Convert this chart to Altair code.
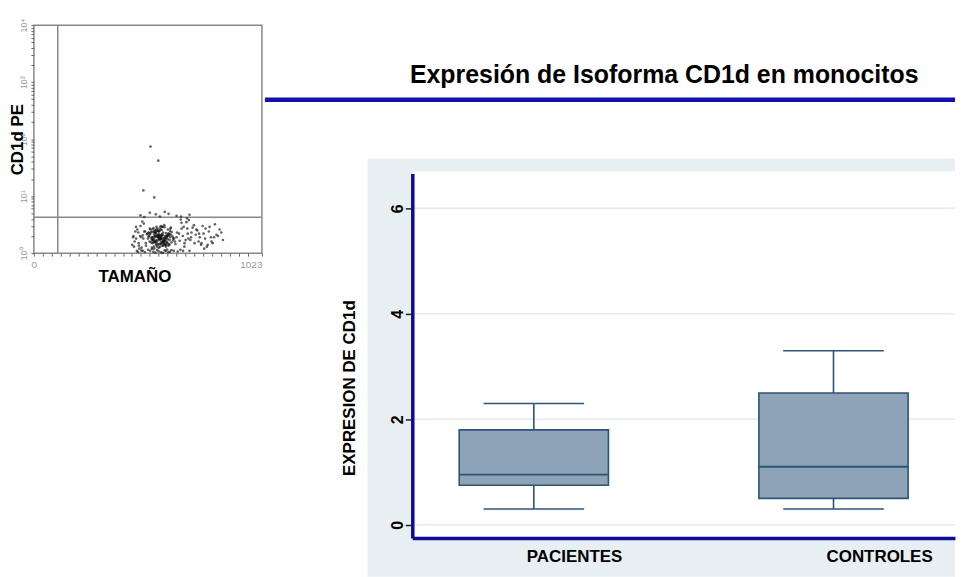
import altair as alt
import pandas as pd

FONT = "Liberation Sans"
BLUE = "#0b0b9c"
BOX_FILL = "#8fa3b7"
BOX_LINE = "#2b5579"

# ---------------- box plot values ----------------
groups = ["PACIENTES", "CONTROLES"]
whisker_low = [0.3, 0.3]
q1 = [0.75, 0.5]
median = [0.95, 1.1]
q3 = [1.8, 2.5]
whisker_high = [2.3, 3.3]
y_ticks = [0, 2, 4, 6]

# ---------------- cytometry dot plot values ----------------
core_x = [512, 547, 583, 601, 538, 566, 624, 495, 578, 553,
          609, 531, 589, 642, 520, 571, 556, 603, 488, 615,
          544, 592, 527, 569, 635, 507, 582, 549, 597, 561,
          618, 534, 575, 502, 588, 629, 541, 566, 612, 519,
          557, 594, 481, 573, 538, 651, 526, 585, 562, 606,
          499, 547, 621, 579, 533, 568, 597, 515, 553, 640,
          586, 542, 574, 608, 491, 563, 529, 600, 556, 617,
          537, 583, 509, 571, 625, 546, 592, 523, 564, 604,
          578, 550, 632, 517, 589, 560, 611, 532, 575, 503,
          567, 598, 544, 585, 654, 528, 559, 613, 571, 540]
core_y = [1.8, 2.2, 1.5, 2.6, 1.3, 2.0, 1.7, 2.4, 2.9, 1.6,
          2.1, 1.9, 1.4, 2.3, 2.7, 1.75, 2.5, 1.35, 2.05, 2.8,
          1.55, 2.25, 1.85, 3.0, 1.45, 2.15, 1.65, 2.6, 1.95, 1.25,
          2.35, 1.7, 2.9, 1.5, 2.0, 1.8, 2.45, 1.3, 2.7, 1.6,
          2.1, 1.4, 1.9, 2.55, 1.75, 2.2, 1.55, 3.1, 1.85, 1.45,
          2.4, 1.65, 2.0, 1.35, 2.65, 1.95, 1.5, 2.3, 1.7, 1.9,
          2.85, 1.6, 2.15, 1.4, 1.8, 2.5, 1.25, 2.05, 1.95, 1.55,
          2.75, 1.65, 2.2, 1.45, 1.85, 2.35, 1.3, 2.6, 1.75, 2.0,
          1.5, 2.9, 1.6, 2.25, 1.4, 1.9, 2.45, 1.7, 2.1, 1.35,
          2.8, 1.55, 2.0, 1.8, 1.65, 2.4, 1.45, 2.15, 1.85, 1.2]
dense_x = [548, 563, 579, 535, 592, 557, 571, 544, 586, 603, 529, 562, 575, 551, 597, 540, 568, 583, 556, 612,
           521, 549, 574, 590, 537, 560, 580, 546, 566, 601, 514, 553, 577, 539, 594, 558, 570, 527, 587, 605,
           543, 565, 581, 532, 555, 573, 596, 548, 562, 584, 518, 541, 569, 591, 536, 559, 578, 609, 552, 566]
dense_y = [2.0, 1.7, 2.3, 1.9, 1.6, 2.1, 1.8, 2.5, 1.45, 2.2, 1.75, 2.4, 1.55, 1.95, 2.05, 1.65, 2.6, 1.85, 1.4, 1.9,
           2.15, 1.5, 2.0, 1.7, 2.35, 1.8, 1.6, 2.25, 1.45, 1.75, 1.95, 2.45, 1.35, 2.1, 1.85, 2.0, 1.55, 2.3, 1.7, 2.2,
           1.9, 2.05, 1.65, 1.5, 2.7, 1.8, 1.95, 1.4, 2.15, 1.6, 2.0, 2.3, 1.75, 1.85, 1.55, 2.4, 2.1, 1.7, 1.3, 1.9]
edge_x = [452, 468, 705, 688, 473, 662, 447, 721, 690, 478,
          675, 459, 733, 698, 486, 668, 441, 712, 681, 464,
          744, 657, 493, 726, 470, 695, 455, 739, 672, 483,
          707, 462, 684, 750, 476, 663, 449, 718, 693, 467,
          729, 659, 488, 702, 458, 676, 741, 471, 687, 445]
edge_y = [1.6, 2.3, 1.9, 2.7, 1.2, 3.4, 2.0, 1.5, 2.2, 3.0,
          1.3, 1.8, 2.5, 1.1, 3.6, 2.0, 1.4, 2.8, 1.7, 2.6,
          1.9, 1.15, 3.3, 2.1, 1.5, 3.8, 2.4, 1.6, 2.9, 1.25,
          2.3, 1.1, 3.5, 1.4, 2.0, 2.7, 1.3, 3.1, 1.8, 1.05,
          2.6, 3.9, 1.1, 1.7, 2.9, 1.5, 2.2, 1.35, 4.1, 1.9]
tail_x = [768, 785, 802, 757, 819, 776, 833, 794, 761, 848,
          812, 780, 826, 770, 797, 841, 764, 808, 788, 752]
tail_y = [1.8, 2.4, 1.5, 3.0, 2.1, 1.3, 2.6, 1.9, 2.2, 1.7,
          3.2, 1.4, 2.0, 2.7, 1.6, 2.3, 1.2, 1.9, 2.9, 1.5]
base_x = [498, 521, 545, 560, 587, 603, 628, 512, 536, 571,
          592, 617, 645, 482, 553, 579, 610, 669, 530, 598]
base_y = [1.05, 1.1, 1.02, 1.08, 1.12, 1.04, 1.1, 1.15, 1.06, 1.03,
          1.09, 1.13, 1.07, 1.11, 1.14, 1.01, 1.06, 1.1, 1.18, 1.16]
high_x = [478, 520, 565, 604, 640, 698, 495, 587, 547, 660]
high_y = [4.6, 5.1, 4.4, 4.9, 4.5, 4.7, 4.3, 5.3, 4.8, 4.4]
outlier_x = [523, 558, 491, 540]
outlier_y = [74, 42, 12.6, 9.5]
gate_x = [107]
gate_y = [4.25]
cyto_x_ticks = list(range(0, 1000, 40)) + [1023]
cyto_y_ticks = [m * 10 ** e for e in range(4) for m in range(1, 10)] + [10000]

dots = pd.DataFrame({
    "tam": core_x + dense_x + edge_x + tail_x + base_x + high_x + outlier_x,
    "pe": core_y + dense_y + edge_y + tail_y + base_y + high_y + outlier_y,
})

# ---------------- left: cytometry ----------------
CW, CH = 229, 229
cx = alt.Scale(domain=[0, 1023], nice=False, zero=False)
cy = alt.Scale(type="log", domain=[1, 10000], nice=False)

cx_axis = alt.Axis(
    values=cyto_x_ticks, tickCount=100,
    labelExpr="datum.value == 0 ? '0' : datum.value == 1023 ? '1023' : ''",
    labelFlush=False, labelOverlap=False, labelBound=False,
    labelAlign={"condition": {"test": "datum.value == 1023", "value": "right"}, "value": "center"},
    labelColor="#999", labelFontSize=10, labelPadding=3,
    tickSize=3, tickColor="#666", tickWidth=1, domain=False, grid=False,
    title="TAMAÑO", titleFontSize=17, titleFontWeight="bold", titleColor="#000",
    titleX=101, titleY=15, titleBaseline="top", titleAlign="center",
)
cy_axis = alt.Axis(
    values=cyto_y_ticks, tickCount=100,
    labelExpr="datum.value == 1 ? '10⁰' : datum.value == 10 ? '10¹' : datum.value == 100 ? '10²' : datum.value == 1000 ? '10³' : datum.value == 10000 ? '10⁴' : ''",
    labelOverlap=False, labelAngle=270, labelAlign="center", labelBaseline="bottom",
    labelColor="#999", labelFontSize=9, labelPadding=2,
    tickSize=3, tickColor="#666", tickWidth=1, domain=False, grid=False,
    title="CD1d PE", titleFontSize=17, titleFontWeight="bold", titleColor="#000",
    titleAngle=270, titleX=-7, titleY=114.5, titleBaseline="bottom", titleAlign="center",
)

pts = alt.Chart(dots).mark_circle(size=7, color="#111", opacity=0.65).encode(
    x=alt.X("tam:Q", scale=cx, axis=cx_axis),
    y=alt.Y("pe:Q", scale=cy, axis=cy_axis),
)
gx = alt.Chart(pd.DataFrame({"g": gate_x})).mark_rule(color="#888", strokeWidth=1.5).encode(
    x=alt.X("g:Q", scale=cx))
gy = alt.Chart(pd.DataFrame({"g": gate_y})).mark_rule(color="#888", strokeWidth=1.5).encode(
    y=alt.Y("g:Q", scale=cy))

left = alt.layer(gx, gy, pts).properties(
    width=CW, height=CH,
    view=alt.ViewBackground(stroke="#888", strokeWidth=1.5, fill="white"),
)

# ---------------- right: box plot ----------------
W, H = 545, 515
box_df = pd.DataFrame({"grupo": groups, "lo": whisker_low, "q1": q1,
                       "med": median, "q3": q3, "hi": whisker_high})
grid_df = pd.DataFrame({"v": y_ticks})
one = alt.Data(values=[{"k": 1}])

xs = alt.Scale(domain=groups, paddingInner=0.502, paddingOuter=0.1565)
ys = alt.Scale(domain=[-0.25, 6.66], range=[515, 149], nice=False, zero=False)

x_axis = alt.Axis(
    title=None, labelAngle=0, labelAlign="left", labelOffset=-7, labelPadding=11,
    ticks=False, domainColor=BLUE, domainWidth=3.5, labelFontSize=17,
    labelFontWeight="bold", labelColor="#000", grid=False, zindex=1,
)
y_axis = alt.Axis(
    values=y_ticks, format="d", title="EXPRESION DE CD1d", titleFontSize=17, titleFontWeight="bold",
    titleColor="#000", titleAngle=270, titleX=-54, titleY=364, titleBaseline="bottom",
    titleAlign="center", labelAngle=270, labelAlign="center", labelBaseline="bottom",
    labelFontSize=16, labelFontWeight="bold", labelColor="#000", labelPadding=0,
    tickSize=7, tickColor="#222", tickWidth=1.5, domainColor=BLUE, domainWidth=3.5,
    grid=False, zindex=1,
)

panel = alt.Chart(one).mark_rect(color="#e8eff2").encode(
    x=alt.value(-45), x2=alt.value(W), y=alt.value(134), y2=alt.value(554))
plotbg = alt.Chart(one).mark_rect(color="white").encode(
    x=alt.value(0), x2=alt.value(W), y=alt.value(147), y2=alt.value(H))
grid = alt.Chart(grid_df).mark_rule(color="#e4ecef", strokeWidth=1.5).encode(
    y=alt.Y("v:Q", scale=ys), x=alt.value(0), x2=alt.value(W))

boxes = alt.Chart(box_df).mark_rect(fill=BOX_FILL, stroke=BOX_LINE, strokeWidth=1.6).encode(
    x=alt.X("grupo:N", scale=xs, axis=x_axis, sort=groups),
    y=alt.Y("q1:Q", scale=ys, axis=y_axis),
    y2="q3:Q",
)
w_lo = alt.Chart(box_df).mark_rule(color=BOX_LINE, strokeWidth=1.6).encode(
    x=alt.X("grupo:N", scale=xs, sort=groups), y=alt.Y("lo:Q", scale=ys), y2="q1:Q")
w_hi = alt.Chart(box_df).mark_rule(color=BOX_LINE, strokeWidth=1.6).encode(
    x=alt.X("grupo:N", scale=xs, sort=groups), y=alt.Y("q3:Q", scale=ys), y2="hi:Q")
cap_lo = alt.Chart(box_df).mark_tick(color=BOX_LINE, size=101, thickness=1.6, opacity=1).encode(
    x=alt.X("grupo:N", scale=xs, sort=groups), y=alt.Y("lo:Q", scale=ys))
cap_hi = alt.Chart(box_df).mark_tick(color=BOX_LINE, size=101, thickness=1.6, opacity=1).encode(
    x=alt.X("grupo:N", scale=xs, sort=groups), y=alt.Y("hi:Q", scale=ys))
med = alt.Chart(box_df).mark_tick(color=BOX_LINE, size=150, thickness=1.8, opacity=1).encode(
    x=alt.X("grupo:N", scale=xs, sort=groups), y=alt.Y("med:Q", scale=ys))

title = alt.Chart(one).mark_text(
    text="Expresión de Isoforma CD1d en monocitos", font=FONT, fontSize=25,
    fontWeight="bold", color="#000", align="center", baseline="alphabetic",
).encode(x=alt.value(253), y=alt.value(58))
bar_line = alt.Chart(one).mark_rule(color="#1212aa", strokeWidth=4.5).encode(
    x=alt.value(-148), x2=alt.value(W), y=alt.value(75))

right = alt.layer(panel, plotbg, grid, boxes, w_lo, w_hi, cap_lo, cap_hi, med, title, bar_line).properties(
    width=W, height=H,
    view=alt.ViewBackground(stroke="transparent", fill="transparent"),
)

chart = alt.hconcat(left, right, spacing=151, bounds="flush").properties(
    padding={"left": 0, "top": 8, "right": 0, "bottom": 0},
).configure(font=FONT)

chart.save("out.html", embed_options={"renderer": "svg", "actions": False})
